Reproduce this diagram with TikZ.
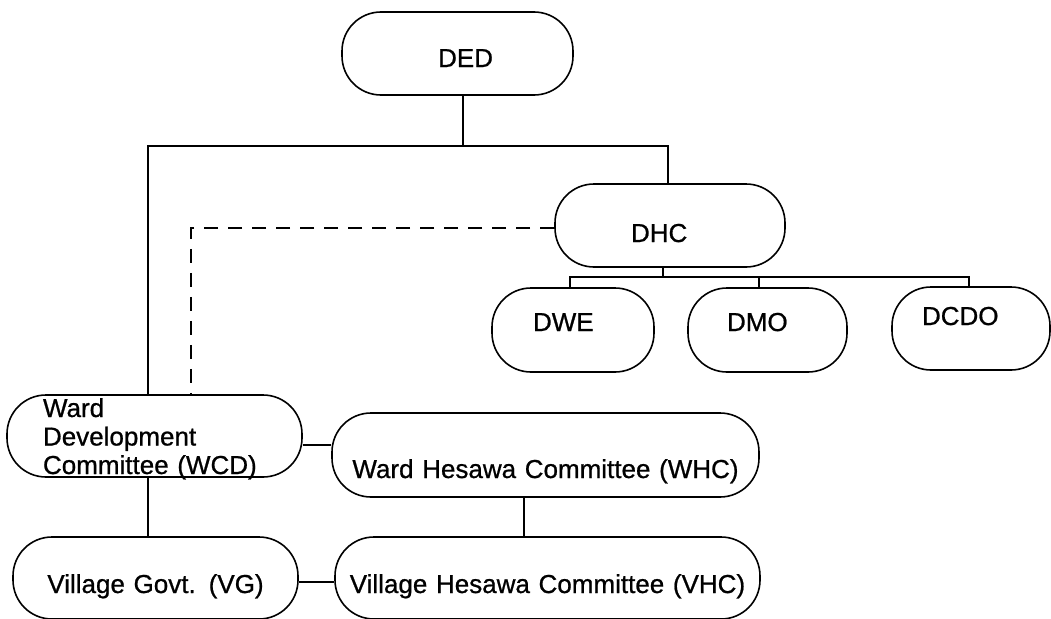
\documentclass[tikz,border=0pt]{standalone}
\usepackage{fontspec}
\setmainfont{Liberation Sans}[WordSpace=2.2,FakeBold=0.8]
\begin{document}
\begin{tikzpicture}[x=1pt,y=-1pt,
  box/.style={draw, line width=1.6pt, rounded corners=39pt,
    font=\fontsize{26}{28.5}\selectfont, inner ysep=0pt},
  conn/.style={line width=1.3pt},
  dconn/.style={line width=1.4pt, dash pattern=on 14pt off 10pt}]
\useasboundingbox (0,0) rectangle (1051,618);

\node[box, minimum width=231pt, minimum height=83pt, text width=71pt, inner xsep=80pt,
  align=right, text height=27pt, text depth=0pt] (ded) at (457.5,53.5) {DED};
\node[box, minimum width=230pt, minimum height=83pt, text width=78pt, inner xsep=76pt,
  align=left, text height=33pt, text depth=0pt] (dhc) at (670,225.5) {DHC};
\node[box, minimum width=162pt, minimum height=84pt, text width=80pt, inner xsep=41pt,
  align=left, text height=2pt, text depth=0pt] (dwe) at (573,330) {DWE};
\node[box, minimum width=159pt, minimum height=84pt, text width=81pt, inner xsep=39pt,
  align=left, text height=2pt, text depth=0pt] (dmo) at (767.5,330) {DMO};
\node[box, minimum width=158pt, minimum height=83pt, text width=98pt, inner xsep=30pt,
  align=left, text height=0pt, text depth=7pt] (dcdo) at (971,328.5) {DCDO};
\node[box, minimum width=295pt, minimum height=82pt, text width=223pt, inner xsep=36pt,
  align=left, text height=0pt, text depth=38pt] (ward) at (154.5,436)
  {Ward\\Development\\Committee (WCD)};
\node[box, minimum width=427pt, minimum height=84pt, text width=421pt, inner xsep=3pt,
  align=center, text height=46pt, text depth=0pt] (whc) at (545.5,455)
  {Ward Hesawa Committee (WHC)};
\node[box, minimum width=285pt, minimum height=82pt, text width=275pt, inner xsep=5pt,
  align=center, text height=30pt, text depth=0pt] (vg) at (155.5,578)
  {Village Govt. (VG)};
\node[box, minimum width=425pt, minimum height=82pt, text width=419pt, inner xsep=3pt,
  align=center, text height=30pt, text depth=0pt] (vhc) at (547.5,578)
  {Village Hesawa Committee (VHC)};

\coordinate (j0) at (463,146);
\coordinate (jL) at (148,146);
\coordinate (jR) at (668,146);
\coordinate (dk) at (191,228);
\coordinate (br) at (663,277);
\coordinate (bW) at (570,277);
\coordinate (bM) at (759,277);
\coordinate (bC) at (969,277);
\coordinate (h1) at (0,445);
\coordinate (h2) at (0,582);
\coordinate (v1) at (524,0);

\draw[conn] (j0 |- ded.south) -- (j0);
\draw[conn] (ward.north -| jL) -- (jL) -- (jR) -- (jR |- dhc.north);
\draw[dconn] (dhc.west |- dk) -- (dk) -- (dk |- ward.north);
\draw[conn] (br |- dhc.south) -- (br);
\draw[conn] (bW |- dwe.north) -- (bW) -- (bC) -- (bC |- dcdo.north);
\draw[conn] (bM) -- (bM |- dmo.north);
\draw[conn] (ward.east |- h1) -- (whc.west |- h1);
\draw[conn] (whc.south -| v1) -- (vhc.north -| v1);
\draw[conn] (ward.south -| jL) -- (vg.north -| jL);
\draw[conn] (vg.east |- h2) -- (vhc.west |- h2);
\end{tikzpicture}
\end{document}
